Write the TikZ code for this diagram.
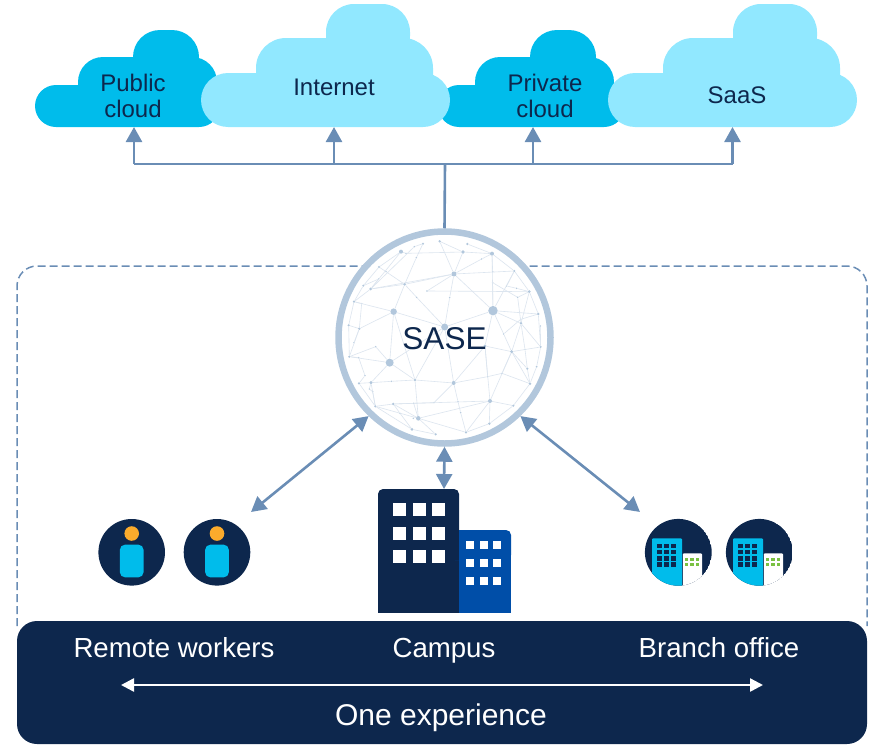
\documentclass[tikz,border=0pt]{standalone}
\usepackage{fontspec}
\usepackage{xcolor}
\usetikzlibrary{arrows.meta}
\setmainfont{Liberation Sans}
\definecolor{navy}{HTML}{0D274D}
\definecolor{cyan-dark}{HTML}{00BCEB}
\definecolor{cyan-light}{HTML}{91E8FF}
\definecolor{steel}{HTML}{6A8DB5}
\definecolor{ring}{HTML}{B2C7DC}
\definecolor{web}{HTML}{DCE5EF}
\definecolor{royal}{HTML}{004EA8}
\definecolor{amber}{HTML}{FBAB2C}
\definecolor{leaf}{HTML}{7AC143}
\tikzset{
    cloud-dark/.style = {fill=cyan-dark, rectangle, inner sep=0pt},
    cloud-light/.style = {fill=cyan-light, rectangle, inner sep=0pt},
    cloud-text/.style = {text=navy, font=\fontsize{24}{26}\selectfont, align=center, inner sep=0pt, anchor=base},
    bar-text/.style = {text=white, font=\fontsize{27.6}{29}\selectfont, inner sep=0pt, anchor=base},
    flow/.style = {draw=steel, line width=2.6pt},
    flow-tip/.style = {flow, -{Triangle[width=16pt,length=15pt]}},
    flow-both/.style = {flow, {Triangle[width=16pt,length=15pt]}-{Triangle[width=16pt,length=15pt]}},
    net-dot/.style = {circle, fill=ring, inner sep=0pt, minimum size=#1},
    net-dot/.default = 2pt,
}

\begin{document}
\begin{tikzpicture}[x=1pt,y=-1pt]
\useasboundingbox (0,0) rectangle (874,744);

\draw[steel, line width=1.5pt, dash pattern=on 8pt off 4pt, rounded corners=20pt] (17,626) -- (17,266) -- (867,266) -- (867,626);

\node[cloud-dark, rounded corners=21pt, minimum width=185pt, minimum height=42pt] (public-base) at (127.5,106) {};
\node[cloud-dark, rounded corners=25pt, minimum width=139pt, minimum height=60pt] (public-mid) at (147.5,87) {};
\node[cloud-dark, rounded corners=27pt, minimum width=66pt, minimum height=54pt] (public-top) at (166,57) {};
\node[cloud-dark, rounded corners=21pt, minimum width=187pt, minimum height=42pt] (private-base) at (531.5,106) {};
\node[cloud-dark, rounded corners=25pt, minimum width=139pt, minimum height=60pt] (private-mid) at (544.5,87) {};
\node[cloud-dark, rounded corners=27pt, minimum width=66pt, minimum height=54pt] (private-top) at (563,57) {};
\node[cloud-light, rounded corners=27pt, minimum width=249pt, minimum height=54pt] (internet-base) at (325.5,100) {};
\node[cloud-light, rounded corners=30pt, minimum width=177pt, minimum height=72pt] (internet-mid) at (344.5,74) {};
\node[cloud-light, rounded corners=28pt, minimum width=84pt, minimum height=60pt] (internet-top) at (368,34) {};
\node[cloud-light, rounded corners=27pt, minimum width=249pt, minimum height=54pt] (saas-base) at (732.5,100) {};
\node[cloud-light, rounded corners=30pt, minimum width=177pt, minimum height=72pt] (saas-mid) at (751.5,74) {};
\node[cloud-light, rounded corners=28pt, minimum width=84pt, minimum height=60pt] (saas-top) at (775,34) {};

\node[cloud-text] (public-1) at (133,91) {Public};
\node[cloud-text] (public-2) at (133,117) {cloud};
\node[cloud-text] (internet) at (334,95) {Internet};
\node[cloud-text] (private-1) at (545,91) {Private};
\node[cloud-text] (private-2) at (545,117) {cloud};
\node[cloud-text] (saas) at (737,103) {SaaS};

\coordinate (hub) at (445,164);
\coordinate (public-in) at (134,127);
\coordinate (internet-in) at (334,127);
\coordinate (private-in) at (533,127);
\coordinate (saas-in) at (732.5,127);
\draw[flow] (public-in |- hub) -- (saas-in |- hub);
\foreach \target in {public-in,internet-in,private-in,saas-in}
    \draw[flow-tip] (\target |- hub) -- (\target);

\node[circle, draw=ring, fill=white, line width=6.5pt, minimum size=212pt, inner sep=0pt] (sase) at (444.5,337.5) {};
\draw[flow] (hub) -- (sase.north);

\begin{scope}[shift={(330,220)},x=0.3333pt,y=-0.3333pt]
\foreach \name/\x/\y/\r in {a1/213/95/4, a2/279/71/2.2, a3/329/64/2.6, a4/412/72/2.6, a5/399/96/3.6, a6/486/101/4, a7/553/153/2.2, a8/372/162/5,
    a9/147/141/2.2, a10/100/197/2.2, a11/122/207/3, a12/224/193/3, a13/72/245/2.4, a14/191/275/6.5, a15/489/272/9.5, a16/598/215/3,
    a17/625/282/2.8, a18/573/310/2.8, a19/56/316/2.4, a20/88/326/2.6, a21/344/321/7, a22/632/381/2.2, a23/545/395/3.4, a24/465/378/3.4,
    a25/58/410/2.4, a26/179/428/8, a27/620/440/2, a28/592/446/2.4, a29/87/490/2.4, a30/123/488/3.4, a31/255/480/2.6, a32/371/489/4,
    a33/600/491/2.8, a34/136/559/2.4, a35/190/552/2.8, a36/480/543/4, a37/550/557/2.4, a38/265/595/4.6, a39/478/611/2.8, a40/246/628/3,
    a41/317/643/2.4, a42/408/637/2.4,
    b1/259/113/1.6, b2/228/100/1.6, b3/253/80/1.6, b4/168/155/1.6, b5/146/177/1.6, b6/291/213/1.6, b7/260/232/1.6, b8/359/233/1.6,
    b9/488/155/1.6, b10/488/188/1.6, b11/530/198/1.6, b12/560/205/1.6, b13/563/232/1.6, b14/95/251/1.6, b15/137/380/1.6, b16/72/368/1.6,
    b17/86/413/1.6, b18/105/467/1.6, b19/118/507/1.6, b20/128/515/1.6, b21/184/484/1.6, b22/251/550/1.6, b23/312/548/1.6, b24/384/545/1.6,
    b25/392/578/1.6, b26/473/470/1.6, b27/516/460/1.6, b28/585/388/1.6, b29/521/342/1.6, b30/572/298/1.6, b31/631/318/1.6, b32/210/580/1.6,
    b33/250/595/1.6, b34/455/117/1.6}
    \node[net-dot=\r pt] (\name) at (\x,\y) {};
\foreach \from/\to in {a1/b2, b2/a5, a5/a6, a4/a6, a3/a5, a3/a8, a5/a8, a8/b34, b34/a6, a8/a7, a8/a12, a8/b8, b8/a21, a8/a11, a12/a14, a12/a11,
    a12/b1, b1/a2, a12/b7, b7/a21, a1/a11, a1/a9, a2/b3, b3/a11, a9/a10, a10/a13, a13/a11, a13/a14, a13/a19, a14/a20, a14/a21, a14/a26, a19/a20,
    a19/a25, a20/a25, a25/a26, a25/b17, b17/b18, b18/a29, a25/b15, b15/a26, b16/a20, a26/a21, a26/a30, a26/a31, a14/a31, a31/a21, a31/a38,
    a29/a30, a30/b21, b21/a31, a30/a34, a29/a34, a30/b19, b19/b20, b20/a34, a34/a35, a34/a38, a34/a40, a35/b32, b32/a40, a35/a38, a38/a41, a40/a41,
    a35/b22, b22/a36, b22/a38, a21/a32, a32/a31, a32/b23, b23/a35, a32/b24, b24/b25, b25/a42, a32/b26, b26/b27, b27/a33, a24/a32, a24/b26, a24/a36,
    a23/a36, a23/a33, a23/a24, a23/b27, a36/a39, a36/a37, a36/a42, a37/a33, a37/a39, a38/a36, a39/a42, a38/a42, a15/a6, a15/b10, a15/a7, a15/a8,
    a15/a21, a15/a24, a15/a17, a15/b29, b29/a23, a15/a18, a6/a7, a6/b9, a7/a16, a7/b11, b11/b12, b12/a16, a16/a17, a16/a18, a16/b13, b13/a18, b13/b10, a18/a23,
    a18/b28, b28/a28, a18/a22, a17/a22, b30/a17, b31/a22, a22/a27, a22/a23, a28/a33, a28/a23, a27/a33, b29/b30, a8/b6, b6/a16, a9/b4, b4/a12, a10/b5, b5/a11, a13/b14, b14/a20}
    \draw[web, line width=0.6pt] (\from) -- (\to);
\end{scope}
\node[text=navy, font=\fontsize{31.5}{33}\selectfont, inner sep=0pt, anchor=base] (sase-text) at (444.5,349) {SASE};

\coordinate (workers) at (251,512);
\coordinate (branch) at (640,512);
\coordinate (campus) at (444,489);
\draw[flow-both] (sase.226) -- (workers);
\draw[flow-both] (sase.-46) -- (branch);
\draw[flow-both] (sase.south) -- (campus);

\foreach \x in {131.7,217} {
    \fill[navy] (\x,552.3) circle (33.3pt);
    \fill[amber] (\x,533.5) circle (7.3pt);
    \fill[cyan-dark, rounded corners=5pt] (\x-11.8,544.7) rectangle (\x+11.8,577.3);
}

\fill[navy, rounded corners=5pt] (378,489) rectangle (459,540);
\fill[navy] (378,510) rectangle (459,613);
\fill[royal, rounded corners=5pt] (450,530) rectangle (511,560);
\fill[royal] (459,545) rectangle (511,613);
\fill[navy] (378,530) rectangle (459,560);
\foreach \x in {393,413,432}
    \foreach \y in {503,527,550}
        \fill[white] (\x,\y) rectangle +(12.5,12.5);
\foreach \x in {466,479.5,493}
    \foreach \y in {541,559,577}
        \fill[white] (\x,\y) rectangle +(8.2,8.2);

\foreach \x in {678.3,759.3} {
    \begin{scope}
    \clip (\x,552.3) circle (33.4pt);
    \fill[navy] (\x,552.3) circle (33.4pt);
    \fill[cyan-dark, rounded corners=1pt] (\x-26.3,538.3) rectangle (\x+3.7,590);
    \fill[white, rounded corners=1pt] (\x+4.5,553.3) rectangle (\x+23.7,590);
    \foreach \dx in {-21,-14,-7}
        \foreach \dy in {543.5,549.7,555.9,562.1}
            \fill[navy] (\x+\dx,\dy) rectangle +(4.8,4.6);
    \foreach \dx in {8,13.5,19}
        \foreach \dy in {558,562.5}
            \fill[leaf] (\x+\dx-1.8,\dy) rectangle +(3.6,3.4);
    \end{scope}
}

\node[fill=navy, rounded corners=20pt, minimum width=850pt, minimum height=123pt, inner sep=0pt] (bar) at (442,682.5) {};
\node[bar-text] (remote-label) at (174,657) {Remote workers};
\node[bar-text] (campus-label) at (444,657) {Campus};
\node[bar-text] (branch-label) at (719,657) {Branch office};
\node[bar-text, font=\fontsize{30}{32}\selectfont] (experience-label) at (441,725) {One experience};
\coordinate (bar-left) at (121,685);
\coordinate (bar-right) at (763,685);
\draw[white, line width=2.4pt, {Triangle[width=13pt,length=13pt]}-{Triangle[width=13pt,length=13pt]}] (bar-left) -- (bar-right);
\end{tikzpicture}
\end{document}
